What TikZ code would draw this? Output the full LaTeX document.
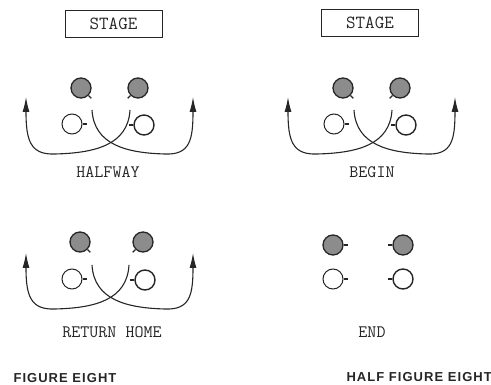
\documentclass[tikz,border=0pt]{standalone}
\usepackage{fontspec}
\newfontfamily\titlefont[LetterSpace=8]{Liberation Sans}
\usetikzlibrary{arrows.meta}

\tikzset{
	dancer/.style={circle, draw=black!85, line width=1pt, minimum size=20pt, inner sep=0pt},
	shaded/.style={dancer, fill=black!45, line width=1.3pt},
	plain/.style={dancer, fill=white},
	nub/.style={line width=1.2pt, draw=black!85},
	trail/.style={line width=1.1pt, draw=black!85, -{Latex[length=15pt,width=7pt]}},
	figname/.style={font=\ttfamily\fontsize{17.5}{17.5}\selectfont, text=black!85},
	stagebox/.style={draw=black!85, line width=0.9pt, minimum width=97pt, minimum height=27pt, inner sep=0pt, font=\ttfamily\fontsize{18.5}{18.5}\selectfont, text=black!85},
	heading/.style={font=\titlefont\bfseries\fontsize{13}{13}\selectfont, text=black!85}
}

\begin{document}
\begin{tikzpicture}[x=1pt, y=-1pt]

			\useasboundingbox (0,0) rectangle (491,385);

			\node[stagebox] (stage1) at (113.5,23.5) {STAGE};
			\node[stagebox] (stage2) at (370,23) {STAGE};

			\node[shaded] (h1) at (81,88) {};
			\node[shaded] (h2) at (138,88) {};
			\node[plain] (h3) at (72,124) {};
			\node[plain, line width=1.4pt] (h4) at (144,125) {};

			\draw[nub] (h1.-45) -- ++(-45:4pt);
			\draw[nub] (h2.-135) -- ++(-135:4pt);
			\draw[nub] (h3.0) -- ++(0:4pt);
			\draw[nub] (h4.180) -- ++(180:4pt);

			\draw[trail] (130,110) .. controls (128,145) and (95,153) .. (55,154) .. controls (30,155) and (26,140) .. (26,97);
			\draw[trail] (92,110) .. controls (94,145) and (127,153) .. (165,154) .. controls (190,155) and (193,140) .. (193,97);

			\node[figname] (halfway) at (108,172) {HALFWAY};

			\node[shaded] (b1) at (343,88) {};
			\node[shaded] (b2) at (400,88) {};
			\node[plain] (b3) at (334,124) {};
			\node[plain, line width=1.4pt] (b4) at (406,125) {};

			\draw[nub] (b1.-45) -- ++(-45:4pt);
			\draw[nub] (b2.-135) -- ++(-135:4pt);
			\draw[nub] (b3.0) -- ++(0:4pt);
			\draw[nub] (b4.180) -- ++(180:4pt);

			\draw[trail] (392,110) .. controls (390,145) and (357,153) .. (317,154) .. controls (292,155) and (288,140) .. (288,97);
			\draw[trail] (354,110) .. controls (356,145) and (389,153) .. (427,154) .. controls (452,155) and (455,140) .. (455,97);

			\node[figname] (begin) at (372,172) {BEGIN};

			\node[shaded] (r1) at (80,242) {};
			\node[shaded] (r2) at (143,242) {};
			\node[plain] (r3) at (72,279) {};
			\node[plain, line width=1.4pt] (r4) at (145,280) {};

			\draw[nub] (r1.-45) -- ++(-45:4pt);
			\draw[nub] (r2.-135) -- ++(-135:4pt);
			\draw[nub] (r3.0) -- ++(0:4pt);
			\draw[nub] (r4.180) -- ++(180:4pt);

			\draw[trail] (129,265) .. controls (127,300) and (95,308) .. (55,309) .. controls (30,310) and (26,295) .. (26,253);
			\draw[trail] (92,265) .. controls (94,300) and (127,308) .. (165,309) .. controls (190,310) and (193,295) .. (193,253);

			\node[figname] (home) at (112,332) {RETURN HOME};

			\node[shaded] (e1) at (333,245) {};
			\node[shaded] (e2) at (403,245) {};
			\node[plain] (e3) at (333,279) {};
			\node[plain, line width=1.4pt] (e4) at (403,279) {};

			\draw[nub] (e1.0) -- ++(0:4pt);
			\draw[nub] (e2.180) -- ++(180:4pt);
			\draw[nub] (e3.0) -- ++(0:4pt);
			\draw[nub] (e4.180) -- ++(180:4pt);

			\node[figname] (end) at (372,332) {END};

			\node[heading, anchor=west] (full) at (10,378) {FIGURE EIGHT};
			\node[heading, anchor=west] (half) at (343,377) {HALF FIGURE EIGHT};

\end{tikzpicture}
\end{document}
